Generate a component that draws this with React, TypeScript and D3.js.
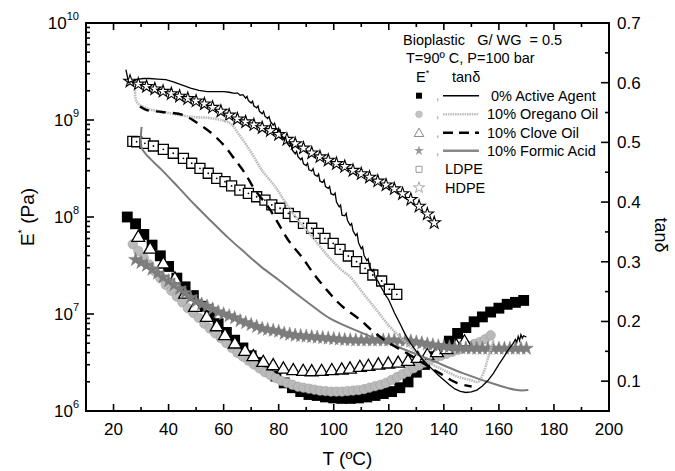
import React from 'react';
import * as d3 from 'd3';

// ---- E* (Pa) data, stored as [T (°C), log10 E*] ----
const activeAgentE: [number, number][] = [
  [25, 8.0], [28, 7.93], [31, 7.82], [34, 7.71], [37, 7.6], [40, 7.49], [43, 7.37], [46, 7.28], [49, 7.19],
  [52, 7.08], [55, 6.98], [58, 6.9], [61, 6.81], [64, 6.73], [67, 6.65], [70, 6.57], [73, 6.5], [76, 6.43],
  [79, 6.36], [82, 6.29], [85, 6.24], [88, 6.2], [91, 6.17], [94, 6.16], [97, 6.145], [100, 6.135], [103, 6.13],
  [106, 6.13], [109, 6.135], [112, 6.145], [115, 6.16], [118, 6.18], [121, 6.2], [124, 6.24], [127, 6.3],
  [130, 6.4], [133, 6.48], [136, 6.56], [139, 6.64], [142, 6.72], [145, 6.8], [148, 6.86], [151, 6.92],
  [154, 6.97], [157, 7.02], [160, 7.06], [163, 7.1], [166, 7.12], [169, 7.14],
];
const oreganoE: [number, number][] = [
  [27, 7.72], [29, 7.65], [31, 7.58], [33, 7.51], [35, 7.44], [37, 7.37], [39, 7.3], [41, 7.24], [43, 7.18],
  [45, 7.12], [47, 7.06], [49, 7.01], [51, 6.96], [53, 6.9], [55, 6.85], [57, 6.8], [59, 6.75], [61, 6.7],
  [63, 6.65], [65, 6.6], [67, 6.56], [69, 6.52], [71, 6.48], [73, 6.44], [75, 6.4], [77, 6.37], [79, 6.34],
  [81, 6.31], [83, 6.29], [85, 6.27], [87, 6.25], [89, 6.24], [91, 6.23], [93, 6.22], [95, 6.21], [97, 6.205],
  [99, 6.2], [101, 6.2], [103, 6.2], [105, 6.205], [107, 6.21], [109, 6.215], [111, 6.225], [113, 6.24],
  [115, 6.255], [117, 6.27], [119, 6.29], [121, 6.32], [123, 6.35], [125, 6.38], [127, 6.41], [129, 6.44],
  [131, 6.47], [133, 6.5], [135, 6.53], [137, 6.55], [139, 6.57], [141, 6.59], [143, 6.61], [145, 6.63],
  [147, 6.65], [149, 6.67], [151, 6.69], [153, 6.71], [155, 6.74], [157, 6.78],
];
const cloveE: [number, number][] = [
  [29, 7.797], [33.3, 7.677], [38.1, 7.523], [42.3, 7.368], [46, 7.213], [49.6, 7.075], [53.9, 6.972],
  [57.5, 6.876], [60.5, 6.784], [64.1, 6.698], [67.8, 6.622], [70.8, 6.567], [74.4, 6.508], [78, 6.474],
  [81.7, 6.44], [85.3, 6.423], [88.9, 6.416], [92, 6.412], [95.6, 6.416], [99.3, 6.423], [102.9, 6.43],
  [105.9, 6.44], [109.5, 6.457], [112.6, 6.467], [116.2, 6.481], [119.8, 6.492], [123.4, 6.5], [127, 6.52],
  [130.5, 6.55], [134, 6.58], [137.5, 6.61], [141, 6.64], [144.5, 6.68], [147.5, 6.72],
];
const formicE: [number, number][] = [
  [28, 7.56], [30, 7.53], [32, 7.5], [34, 7.46], [36, 7.42], [38, 7.38], [40, 7.34], [42, 7.3], [44, 7.26],
  [46, 7.22], [48, 7.17], [50, 7.13], [52, 7.1], [54, 7.08], [56, 7.05], [58, 7.02], [60, 7.0], [62, 6.98],
  [64, 6.96], [66, 6.93], [68, 6.91], [70, 6.89], [72, 6.87], [74, 6.85], [76, 6.84], [78, 6.83], [80, 6.82],
  [82, 6.8], [84, 6.79], [86, 6.78], [88, 6.775], [90, 6.77], [92, 6.765], [94, 6.76], [96, 6.755], [98, 6.75],
  [100, 6.745], [102, 6.74], [104, 6.735], [106, 6.733], [108, 6.73], [110, 6.73], [112, 6.73], [114, 6.73],
  [116, 6.73], [118, 6.73], [120, 6.73], [122, 6.73], [124, 6.73], [126, 6.725], [128, 6.72], [130, 6.71],
  [132, 6.7], [134, 6.69], [136, 6.68], [138, 6.67], [140, 6.665], [142, 6.66], [144, 6.655], [146, 6.65],
  [148, 6.648], [150, 6.646], [152, 6.645], [154, 6.645], [156, 6.645], [158, 6.645], [160, 6.645],
  [162, 6.645], [164, 6.645], [166, 6.645], [168, 6.645], [170, 6.645],
];
const ldpeE: [number, number][] = [
  [27, 8.78], [28.4, 8.776], [31.4, 8.76], [34.5, 8.732], [38.1, 8.698], [41.7, 8.657], [45.4, 8.605],
  [48.4, 8.554], [51.4, 8.502], [54.4, 8.451], [57.5, 8.399], [60.5, 8.364], [62.9, 8.32], [65.9, 8.278],
  [69, 8.244], [72, 8.209], [75, 8.175], [77.5, 8.124], [80.5, 8.09], [83.5, 8.038], [85.9, 8.003],
  [89, 7.935], [92, 7.884], [94.4, 7.832], [96.8, 7.78], [99.8, 7.729], [102.3, 7.667], [105.3, 7.598],
  [108.3, 7.539], [111.4, 7.471], [114.2, 7.402], [117.4, 7.34], [120.2, 7.255], [122.9, 7.203],
];
const hdpeE: [number, number][] = [
  [26, 9.4], [29, 9.37], [32, 9.345], [35, 9.32], [38, 9.295], [41, 9.27], [44, 9.245], [47, 9.22], [50, 9.195],
  [53, 9.165], [56, 9.13], [59, 9.09], [62, 9.05], [65, 9.01], [68, 8.98], [71, 8.95], [74, 8.92], [77, 8.89],
  [80, 8.85], [83, 8.8], [86, 8.755], [89, 8.71], [92, 8.66], [95, 8.62], [98, 8.585], [101, 8.55], [104, 8.52],
  [107, 8.48], [110, 8.445], [113, 8.41], [116, 8.37], [119, 8.33], [122, 8.29], [125, 8.24], [128, 8.18],
  [131, 8.11], [134, 8.03], [136.5, 7.94],
];

// ---- tan δ data, [T (°C), tan δ] ----
const activeAgentTan: [number, number][] = [
  [24.5, 0.622], [25.5, 0.6], [27, 0.603], [29, 0.606], [31, 0.607], [33, 0.607], [36, 0.606], [39, 0.605],
  [42, 0.601], [45, 0.596], [48, 0.591], [51, 0.587], [54, 0.585], [57, 0.585], [60, 0.585], [62, 0.584],
  [64, 0.582], [65, 0.583], [66, 0.579], [67, 0.58], [68, 0.574], [68.5, 0.577], [69, 0.57], [70, 0.566],
  [70.5, 0.569], [71, 0.561], [72, 0.558], [72.5, 0.561], [73, 0.552], [74, 0.548], [74.5, 0.552],
  [75, 0.544], [76, 0.54], [76.5, 0.543], [77, 0.535], [78, 0.529], [78.5, 0.532], [79, 0.524], [80, 0.518],
  [80.5, 0.521], [81, 0.512], [82, 0.505], [82.5, 0.508], [83, 0.499], [84, 0.493], [84.5, 0.497],
  [85, 0.487], [86, 0.481], [86.5, 0.485], [87, 0.476], [88, 0.471], [88.5, 0.474], [89, 0.464],
  [90, 0.461], [90.5, 0.465], [91, 0.454], [92, 0.452], [92.5, 0.456], [93, 0.446], [94, 0.443],
  [94.5, 0.447], [95, 0.435], [96, 0.433], [96.5, 0.437], [97, 0.426], [98, 0.423], [98.5, 0.426],
  [99, 0.414], [100, 0.412], [100.5, 0.415], [101, 0.4], [102, 0.392], [102.5, 0.395], [103, 0.378],
  [104, 0.377], [104.5, 0.381], [105, 0.369], [106, 0.361], [106.5, 0.364], [107, 0.352], [108, 0.344],
  [108.5, 0.347], [109, 0.332], [110, 0.322], [110.5, 0.325], [111, 0.311], [112, 0.302], [112.5, 0.305],
  [113, 0.292], [114, 0.284], [114.5, 0.287], [115, 0.274], [116, 0.268], [117, 0.259], [118, 0.251],
  [119, 0.243], [120, 0.236], [122, 0.215], [124, 0.197], [126, 0.178], [128, 0.163],
  [130, 0.15], [132, 0.138], [134, 0.128], [136, 0.119], [138, 0.11], [140, 0.102], [142, 0.094],
  [144, 0.087], [146, 0.083], [148, 0.081], [150, 0.082], [152, 0.085], [154, 0.092], [156, 0.101],
  [158, 0.113], [160, 0.128], [162, 0.142], [163, 0.15], [164, 0.156], [165, 0.162], [166, 0.17],
  [166.5, 0.165], [167, 0.175], [167.5, 0.168], [168, 0.178], [168.5, 0.172], [169, 0.176], [170, 0.174],
];
const oreganoTan: [number, number][] = [
  [27.8, 0.588], [28.4, 0.568], [32.1, 0.557], [38.1, 0.551], [47.8, 0.543], [56.2, 0.54], [62.3, 0.532],
  [65.3, 0.515], [70.2, 0.482], [73.8, 0.454], [78.7, 0.426], [83.5, 0.392], [88.4, 0.362], [93.2, 0.336],
  [98, 0.309], [102.9, 0.286], [105.9, 0.275], [110.7, 0.247], [115.6, 0.219], [120.4, 0.191],
  [125.3, 0.169], [130.1, 0.147], [135, 0.13], [139.8, 0.119], [144.7, 0.108], [149.5, 0.102],
  [152.5, 0.099], [154.3, 0.113], [156.2, 0.141], [158, 0.169],
];
const cloveTan: [number, number][] = [
  [29.6, 0.56], [32.1, 0.554], [37.5, 0.551], [45.3, 0.546], [49.6, 0.535], [55.7, 0.515], [60.5, 0.493],
  [64.1, 0.471], [67.8, 0.448], [71.4, 0.42], [76.2, 0.392], [79.9, 0.364], [83.5, 0.336], [88.4, 0.308],
  [93.2, 0.277], [98, 0.25], [102.9, 0.226], [109.5, 0.203], [114.4, 0.183], [120.4, 0.163], [126.5, 0.147],
  [132.5, 0.13], [138.6, 0.113], [144.7, 0.097], [150.1, 0.091],
];
const formicTan: [number, number][] = [
  [30.2, 0.526], [30.2, 0.491], [32.6, 0.476], [37.5, 0.454], [43.5, 0.425], [49.6, 0.395], [55.7, 0.367],
  [61.7, 0.34], [67.8, 0.315], [73.8, 0.291], [79.9, 0.27], [85.9, 0.248], [90.8, 0.231], [98.6, 0.205],
  [110.7, 0.18], [122.9, 0.158], [135, 0.136], [147.1, 0.113], [159.2, 0.094], [166.5, 0.085], [170.7, 0.085],
];

// ---- axis ticks & texts ----
const xMajorTicks = [20, 40, 60, 80, 100, 120, 140, 160, 180, 200];
const xMinorTicks = [30, 50, 70, 90, 110, 130, 150, 170, 190];
const eDecades = [6, 7, 8, 9, 10];
const tanMajorTicks = [0.1, 0.2, 0.3, 0.4, 0.5, 0.6, 0.7];
const tanMinorTicks = [0.15, 0.25, 0.35, 0.45, 0.55, 0.65];
const legendNames = ['0% Active Agent', '10% Oregano Oil', '10% Clove Oil', '10% Formic Acid', 'LDPE', 'HDPE'];

const FONT = '"Liberation Sans", Arial, Helvetica, sans-serif';

export default function App() {
  const L = 86, R = 609, T = 23, B = 411;
  const x = d3.scaleLinear().domain([10, 200]).range([L, R]);
  const yE = d3.scaleLog().domain([1e6, 1e10]).range([B, T]);
  const yT = d3.scaleLinear().domain([0.05, 0.7]).range([B, T]);
  const ex = (d: [number, number]) => x(d[0]);
  const ey = (d: [number, number]) => yE(Math.pow(10, d[1]));

  const sym = (type: d3.SymbolType, size: number) => d3.symbol().type(type).size(size)() as string;
  const sq = sym(d3.symbolSquare, 118);
  const sqL = sym(d3.symbolSquare, 100);
  const tri = sym(d3.symbolTriangle, 72);
  const circ = sym(d3.symbolCircle, 70);
  const starG = sym(d3.symbolStar, 60);
  const starH = sym(d3.symbolStar, 48);

  const lineLin = d3.line<[number, number]>().x((d) => x(d[0])).y((d) => yT(d[1]));
  const lineSmooth = d3.line<[number, number]>().x((d) => x(d[0])).y((d) => yT(d[1])).curve(d3.curveCatmullRom);

  const ticks: JSX.Element[] = [];
  xMajorTicks.forEach((t) => {
    ticks.push(<line key={'xb' + t} x1={x(t)} x2={x(t)} y1={B} y2={B - 7} />);
    ticks.push(<line key={'xt' + t} x1={x(t)} x2={x(t)} y1={T} y2={T + 7} />);
  });
  xMinorTicks.forEach((t) => {
    ticks.push(<line key={'xbm' + t} x1={x(t)} x2={x(t)} y1={B} y2={B - 4} />);
    ticks.push(<line key={'xtm' + t} x1={x(t)} x2={x(t)} y1={T} y2={T + 4} />);
  });
  eDecades.forEach((d) => {
    const v = Math.pow(10, d);
    ticks.push(<line key={'ed' + d} x1={L} x2={L + 8} y1={yE(v)} y2={yE(v)} />);
    if (d < 10) {
      for (let k = 2; k <= 9; k++) {
        ticks.push(<line key={'em' + d + '_' + k} x1={L} x2={L + 4} y1={yE(k * v)} y2={yE(k * v)} />);
      }
    }
  });
  tanMajorTicks.forEach((t) => ticks.push(<line key={'tM' + t} x1={R} x2={R - 8} y1={yT(t)} y2={yT(t)} />));
  tanMinorTicks.forEach((t) => ticks.push(<line key={'tm' + t} x1={R} x2={R - 4} y1={yT(t)} y2={yT(t)} />));

  const rows = [95.7, 114.3, 132.7, 150.7, 169.3, 187.7];
  const lgX = 419;

  return (
    <svg width={675} height={471} style={{ position: 'absolute', left: 0, top: 0, background: '#fff' }}
      fontFamily={FONT}>
      <rect x={0} y={0} width={675} height={471} fill="#fff" />
      <defs>
        <clipPath id="plot"><rect x={L} y={T} width={R - L} height={B - T} /></clipPath>
      </defs>

      <g clipPath="url(#plot)">
        {/* E* markers */}
        {activeAgentE.map((d, i) => (
          <path key={'aa' + i} d={sq} transform={`translate(${ex(d)},${ey(d)})`} fill="#000" />
        ))}
        {oreganoE.map((d, i) => (
          <path key={'or' + i} d={circ} transform={`translate(${ex(d)},${ey(d)})`} fill="#bababa" stroke="#a0a0a0" strokeWidth={0.6} />
        ))}
        {cloveE.map((d, i) => (
          <path key={'cl' + i} d={tri} transform={`translate(${ex(d)},${ey(d) + 1})`} fill="#fff" stroke="#000" strokeWidth={1.3} />
        ))}
        {formicE.map((d, i) => (
          <path key={'fo' + i} d={starG} transform={`translate(${ex(d)},${ey(d)})`} fill="#7d7d7d" stroke="#7d7d7d" strokeWidth={0.5} />
        ))}
        {ldpeE.map((d, i) => (
          <g key={'ld' + i} transform={`translate(${ex(d)},${ey(d)})`}>
            <path d={sqL} fill="#fff" stroke="#000" strokeWidth={1.3} />
            <circle r={0.9} fill="#000" />
          </g>
        ))}
        {hdpeE.map((d, i) => (
          <path key={'hd' + i} d={starH} transform={`translate(${ex(d)},${ey(d)})`} fill="#fff" stroke="#000" strokeWidth={1.1} />
        ))}

        {/* tan δ lines */}
        <path d={lineSmooth(oreganoTan) as string} fill="none" stroke="#bcbcbc" strokeWidth={2.6} strokeDasharray="1.6 0.8" />
        <path d={lineSmooth(formicTan) as string} fill="none" stroke="#7a7a7a" strokeWidth={2} />
        <path d={lineSmooth(cloveTan) as string} fill="none" stroke="#000" strokeWidth={2.4} strokeDasharray="10 7" />
        <path d={lineLin(activeAgentTan) as string} fill="none" stroke="#000" strokeWidth={1.3} />
      </g>

      {/* frame & ticks */}
      <rect x={L} y={T} width={R - L} height={B - T} fill="none" stroke="#000" strokeWidth={2} />
      <g stroke="#000" strokeWidth={1.6}>{ticks}</g>

      {/* tick labels */}
      <g fontSize={17} fill="#000">
        {xMajorTicks.map((t) => (
          <text key={'xl' + t} x={x(t)} y={B + 24} textAnchor="middle">{t}</text>
        ))}
        {eDecades.map((d) => (
          <text key={'el' + d} x={79} y={yE(Math.pow(10, d)) + 6} textAnchor="end">
            10<tspan dy={-9} fontSize={11}>{d}</tspan>
          </text>
        ))}
        {tanMajorTicks.map((t) => (
          <text key={'tl' + t} x={617} y={yT(t) + 6} textAnchor="start">{t.toFixed(1)}</text>
        ))}
      </g>

      {/* axis titles */}
      <text x={(L + R) / 2} y={465} textAnchor="middle" fontSize={19}>T (ºC)</text>
      <text transform="translate(34,217) rotate(-90)" textAnchor="middle" fontSize={19}>
        E<tspan dy={-8} fontSize={11}>*</tspan><tspan dy={8}> (Pa)</tspan>
      </text>
      <text transform="translate(655,235) rotate(90)" textAnchor="middle" fontSize={18}>tanδ</text>

      {/* legend */}
      <g fontSize={14.5} fill="#000">
        <text x={403} y={45} xmlSpace="preserve" style={{ whiteSpace: 'pre' }}>Bioplastic   G/ WG  = 0.5</text>
        <text x={406} y={63}>T=90º C, P=100 bar</text>
        <text x={416} y={82}>E<tspan dy={-6} fontSize={9}>*</tspan></text>
        <text x={452} y={82}>tanδ</text>
        {legendNames.map((n, i) => (
          <text key={'ln' + i} x={i < 4 ? (i === 0 ? 491 : 487) : 445} y={rows[i] + 5}>{n}</text>
        ))}
        {rows.slice(0, 4).map((r, i) => (
          <text key={'cm' + i} x={436} y={r + 4} fill="#999" fontSize={12}>,</text>
        ))}
      </g>
      <path d={sym(d3.symbolSquare, 36)} transform={`translate(${lgX},${rows[0]})`} fill="#000" />
      <path d={sym(d3.symbolCircle, 36)} transform={`translate(${lgX},${rows[1]})`} fill="#c4c4c4" stroke="#aaa" strokeWidth={0.5} />
      <path d={sym(d3.symbolTriangle, 40)} transform={`translate(${lgX},${rows[2] + 1})`} fill="#fff" stroke="#888" strokeWidth={1} />
      <path d={sym(d3.symbolStar, 30)} transform={`translate(${lgX},${rows[3]})`} fill="#999" />
      <path d={sym(d3.symbolSquare, 36)} transform={`translate(${lgX},${rows[4]})`} fill="#fff" stroke="#999" strokeWidth={1} />
      <path d={sym(d3.symbolStar, 40)} transform={`translate(${lgX},${rows[5]})`} fill="#fff" stroke="#aaa" strokeWidth={1} />
      <line x1={443} x2={479} y1={rows[0]} y2={rows[0]} stroke="#000" strokeWidth={1.5} />
      <line x1={443} x2={479} y1={rows[1]} y2={rows[1]} stroke="#c0c0c0" strokeWidth={2.5} strokeDasharray="1.6 0.8" />
      <line x1={443} x2={479} y1={rows[2]} y2={rows[2]} stroke="#000" strokeWidth={2.5} strokeDasharray="10 6" />
      <line x1={443} x2={479} y1={rows[3]} y2={rows[3]} stroke="#888" strokeWidth={2.5} />
    </svg>
  );
}
